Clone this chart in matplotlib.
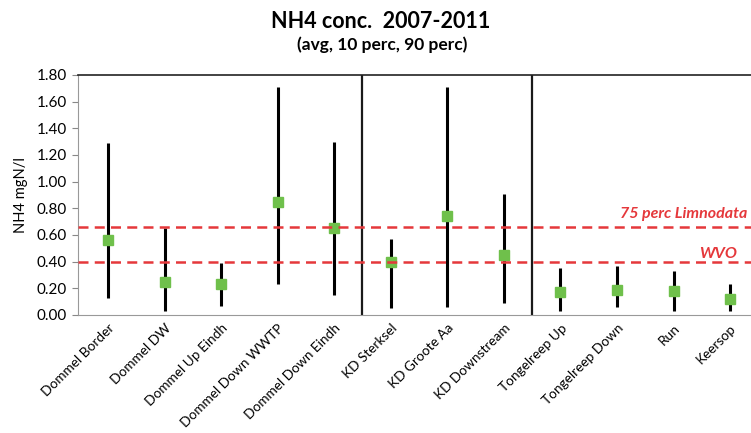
import matplotlib
matplotlib.use('Agg')
import matplotlib.pyplot as plt
import numpy as np

categories = ['Dommel Border', 'Dommel DW', 'Dommel Up Eindh', 'Dommel Down WWTP',
              'Dommel Down Eindh', 'KD Sterksel', 'KD Groote Aa', 'KD Downstream',
              'Tongelreep Up', 'Tongelreep Down', 'Run', 'Keersop']
avg = [0.56, 0.25, 0.23, 0.85, 0.65, 0.40, 0.74, 0.45, 0.17, 0.19, 0.18, 0.12]
p10 = [0.13, 0.03, 0.07, 0.23, 0.15, 0.05, 0.06, 0.09, 0.03, 0.06, 0.03, 0.03]
p90 = [1.29, 0.65, 0.39, 1.71, 1.30, 0.57, 1.71, 0.91, 0.35, 0.37, 0.33, 0.23]
yticks = [0.0, 0.2, 0.4, 0.6, 0.8, 1.0, 1.2, 1.4, 1.6, 1.8]
limnodata_75 = 0.66
wvo = 0.40
separators = [4.5, 7.5]

plt.rcParams['font.family'] = ['Lato', 'DejaVu Sans']

fig = plt.figure(figsize=(7.51, 4.33), dpi=100)
ax = fig.add_axes([78/751, 1 - 315/433, 1 - 78/751, (315 - 75)/433])

x = np.arange(len(categories))
ax.vlines(x, p10, p90, color='black', linewidth=2.2, zorder=3)
ax.plot(x, avg, linestyle='none', marker='s', markersize=6.5,
        color='#6fc04b', markeredgecolor='#6fc04b', zorder=4)

for s in separators:
    ax.axvline(s, color='#1a1a1a', linewidth=1.6, zorder=2)

red = '#e5383b'
ax.axhline(limnodata_75, color=red, linestyle=(0, (4, 2.5)), linewidth=1.8, zorder=5)
ax.axhline(wvo, color=red, linestyle=(0, (4, 2.5)), linewidth=1.8, zorder=5)
ax.text(11.3, limnodata_75 + 0.065, '75 perc Limnodata', color=red, style='italic',
        fontweight='bold', fontsize=11.5, ha='right', va='baseline')
ax.text(11.12, wvo + 0.025, 'WVO', color=red, style='italic',
        fontweight='bold', fontsize=11.5, ha='right', va='baseline')

ax.set_xlim(-0.53, 11.37)
ax.set_ylim(0, 1.8)
ax.set_yticks(yticks)
ax.set_yticklabels([f'{v:.2f}' for v in yticks], fontsize=11)
ax.set_xticks(x)
ax.set_xticklabels(categories, rotation=45, ha='right', rotation_mode='anchor',
                   fontsize=9.8)
ax.tick_params(axis='x', length=0, pad=5)
ax.tick_params(axis='y', length=4, color='#888888', width=0.8, pad=4)
ax.set_ylabel('NH4 mgN/l', fontsize=10.5, labelpad=6)

ax.spines['right'].set_visible(False)
ax.spines['top'].set_color('#222222')
ax.spines['top'].set_linewidth(1.2)
ax.spines['left'].set_color('#999999')
ax.spines['left'].set_linewidth(0.8)
ax.spines['bottom'].set_color('#999999')
ax.spines['bottom'].set_linewidth(0.8)

fig.text(381/751, 1 - 22/433, 'NH4 conc.  2007-2011', ha='center', va='center',
         fontsize=15.5, fontweight='bold')
fig.text(382/751, 1 - 45/433, '(avg, 10 perc, 90 perc)', ha='center', va='center',
         fontsize=12.5, fontweight='bold')

fig.savefig('out.png', dpi=100)
